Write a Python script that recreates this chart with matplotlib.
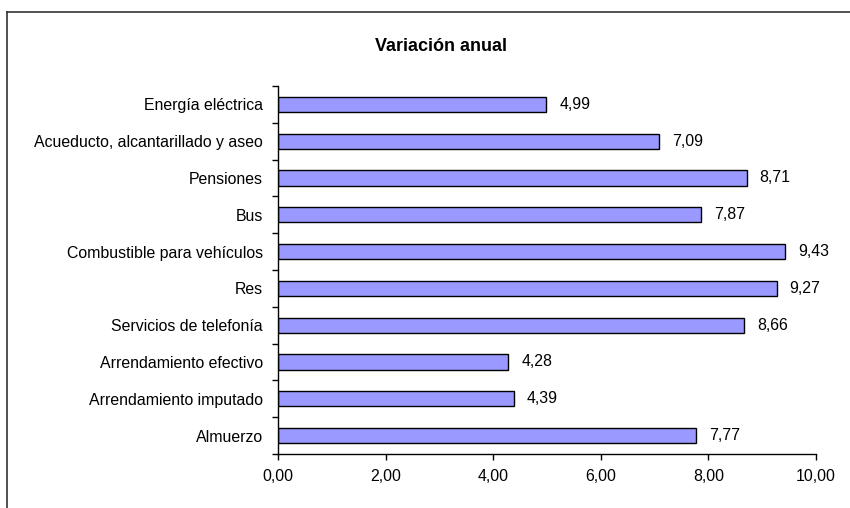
import matplotlib
matplotlib.use("Agg")
import matplotlib.pyplot as plt
from matplotlib.lines import Line2D
import numpy as np

categories = ["Energía eléctrica", "Acueducto, alcantarillado y aseo", "Pensiones", "Bus",
              "Combustible para vehículos", "Res", "Servicios de telefonía",
              "Arrendamiento efectivo", "Arrendamiento imputado", "Almuerzo"]
values = [4.99, 7.09, 8.71, 7.87, 9.43, 9.27, 8.66, 4.28, 4.39, 7.77]
xticks = [0, 2, 4, 6, 8, 10]
title = "Variación anual"

plt.rcParams['font.family'] = ['Liberation Sans', 'DejaVu Sans']

fig = plt.figure(figsize=(8.5, 5.08), dpi=100)
ax = fig.add_axes([278/850, 1-454/508, (816-278)/850, (454-86)/508])

y = np.arange(len(categories))
ax.barh(y, values, height=0.41, color="#9999FF", edgecolor="black", linewidth=1.0)
ax.set_ylim(len(categories)-0.5, -0.5)
ax.set_xlim(0, 10)

ax.set_yticks(y)
ax.set_yticklabels(categories, fontsize=11.4)
ax.tick_params(axis='y', length=0, pad=11)
ax.set_yticks(np.arange(-0.5, len(categories)), minor=True)
ax.tick_params(axis='y', which='minor', length=4, width=1, direction='out')

ax.set_xticks(xticks)
ax.set_xticklabels([f"{v:.2f}".replace(".", ",") for v in xticks], fontsize=11.4)
ax.tick_params(axis='x', length=4, width=1, direction='out', pad=7)

for s in ['top', 'right']:
    ax.spines[s].set_visible(False)
for s in ['left', 'bottom']:
    ax.spines[s].set_linewidth(1.0)

for yi, v in zip(y, values):
    ax.text(v + 0.24, yi, f"{v:.2f}".replace(".", ","), va='center', ha='left', fontsize=11.4)

fig.text(441/850, 1-46/508, title, ha='center', va='center', fontsize=13, fontweight='bold')

# outer frame (clipped)
fig.add_artist(Line2D([7/850, 1], [1-12/508, 1-12/508], color='#333333', linewidth=1.2))
fig.add_artist(Line2D([7/850, 7/850], [1-12/508, 0], color='#333333', linewidth=1.2))

fig.savefig("out.png", dpi=100)
